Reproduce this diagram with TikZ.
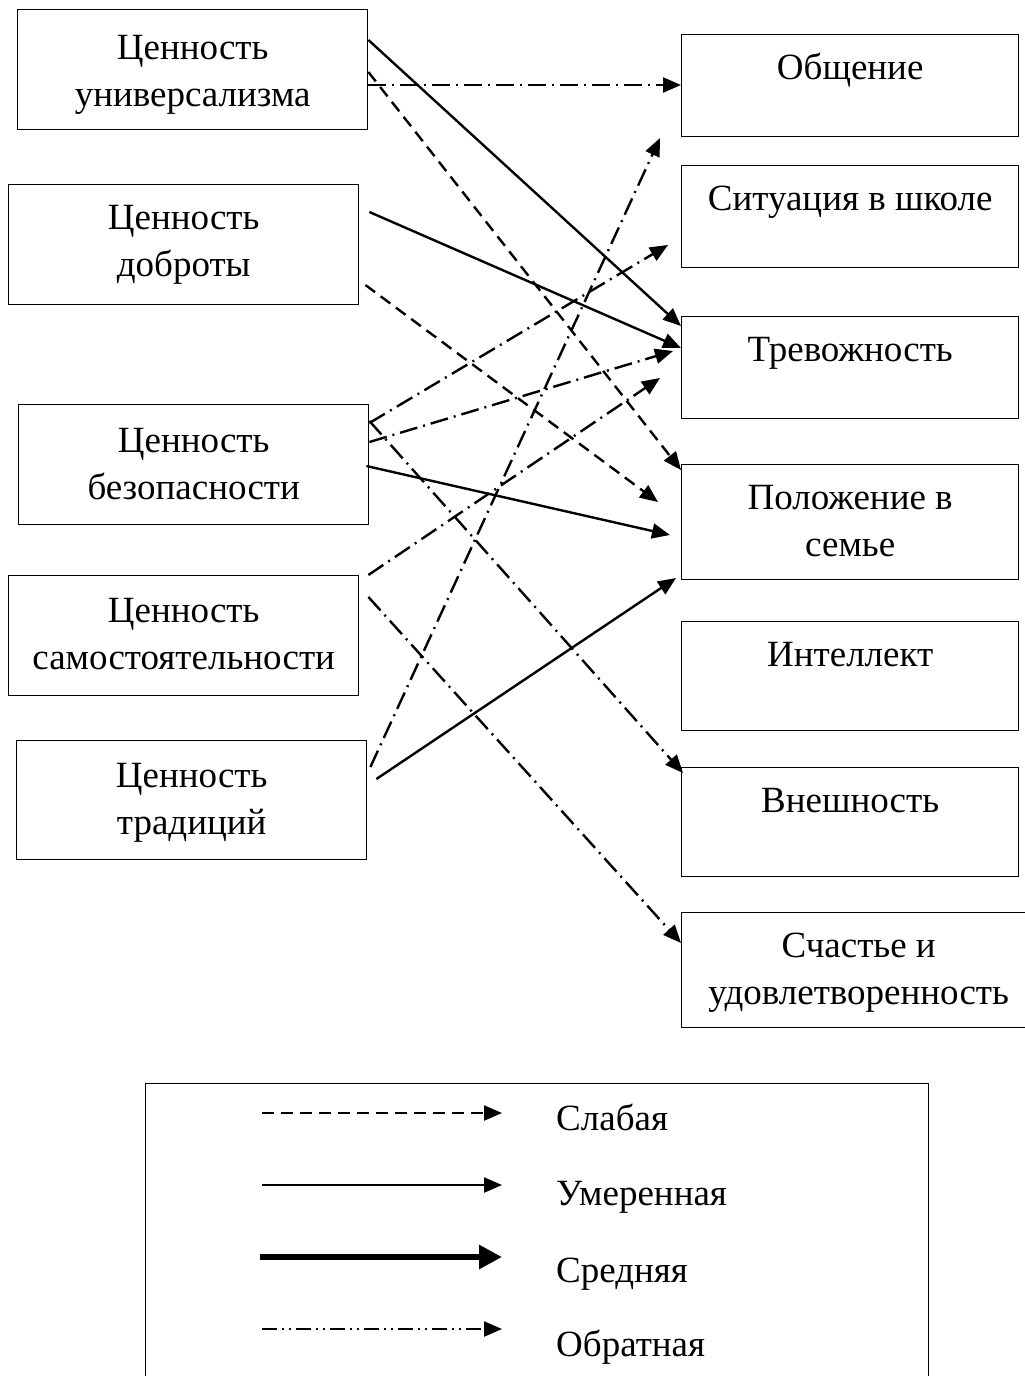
\documentclass[tikz,border=0pt]{standalone}
\usepackage{fontspec}
\setmainfont{Liberation Serif}
\usetikzlibrary{arrows.meta}

\begin{document}
\begin{tikzpicture}  % ------ Ценности и самооценка ---------------
      [x=1pt,y=-1pt,
       box/.style={draw,line width=1.4pt,inner sep=0pt,anchor=north west,align=center,
                   font=\fontsize{37pt}{47pt}\selectfont},
       lbox/.style={box,minimum width=350pt,text height=95pt,text depth=25pt},
       rbox/.style={box,minimum width=337pt,text height=45pt},
       link/.style={line width=2.4pt,-{Triangle[length=18pt,width=15pt]}},
       weak/.style={link,dash pattern=on 12pt off 7pt},
       moderate/.style={link},
       strong/.style={line width=6pt,-{Triangle[length=23pt,width=23pt]}},
       inverse/.style={link,dash pattern=on 18pt off 6pt on 2pt off 6pt},
       inverseleg/.style={link,dash pattern=on 15pt off 5pt on 2pt off 5pt on 2pt off 5pt},
       leg/.style={anchor=base west,inner sep=0pt,font=\fontsize{37pt}{47pt}\selectfont}]
    \useasboundingbox (0,0) rectangle (1025,1376);
    \clip (0,0) rectangle (1025,1376);

    % ценности
    \node[lbox,text height=97pt,text depth=23pt] (uni) at (17,9) {Ценность\\универсализма};
    \node[lbox,text height=92pt,text depth=28pt] (dob) at (8,184) {Ценность\\доброты};
    \node[lbox] (bez)  at (18,404) {Ценность\\безопасности};
    \node[lbox,text height=94pt,text depth=26pt] (sam) at (8,575) {Ценность\\самостоятельности};
    \node[lbox,text height=94pt,text depth=25pt] (trad) at (16,740) {Ценность\\традиций};

    % сферы
    \node[rbox,text depth=57pt] (obsh) at (681,34)  {Общение};
    \node[rbox,text depth=57pt] (sit)  at (681,165) {Ситуация в школе};
    \node[rbox,text depth=57pt] (trev) at (681,316) {Тревожность};
    \node[rbox,text height=92pt,text depth=23pt] (pol) at (681,464) {Положение в\\семье};
    \node[rbox,text depth=64pt] (int)  at (681,621) {Интеллект};
    \node[rbox,text depth=64pt] (vn)   at (681,767) {Внешность};
    \node[rbox,minimum width=354pt,text height=92pt,text depth=23pt] (sch) at (681,912) {Счастье и\\удовлетворенность};

    % связи
    \draw[moderate] ([yshift=-31pt]uni.north east) -- ([yshift=-10pt]trev.north west);
    \draw[inverse]  ([yshift=-76pt]uni.north east) -- ([yshift=-51pt]obsh.north west);
    \draw[weak]     ([yshift=-63pt]uni.north east) -- ([yshift=-6pt]pol.north west);
    \draw[moderate] ([xshift=10pt,yshift=-28pt]dob.north east) -- ([yshift=-32pt]trev.north west);
    \draw[weak]     ([xshift=6pt,yshift=-101pt]dob.north east) -- ([xshift=-23pt,yshift=-38pt]pol.north west);
    \draw[inverse]  ([yshift=-19pt]bez.north east) -- ([xshift=-13pt,yshift=-80pt]sit.north west);
    \draw[inverse]  ([yshift=-38pt]bez.north east) -- ([xshift=-8pt,yshift=-35pt]trev.north west);
    \draw[inverse]  ([yshift=-17pt]bez.north east) -- ([xshift=2pt,yshift=-6pt]vn.north west);
    \draw[moderate] ([xshift=-3pt,yshift=-62pt]bez.north east) -- ([xshift=-11pt,yshift=-71pt]pol.north west);
    \draw[inverse]  ([xshift=9pt]sam.north east) -- ([xshift=-21pt,yshift=-62pt]trev.north west);
    \draw[inverse]  ([xshift=9pt,yshift=-22pt]sam.north east) -- ([yshift=-31pt]sch.north west);
    \draw[inverse]  ([xshift=3pt,yshift=-27pt]trad.north east) -- ([xshift=-21pt,yshift=-104pt]obsh.north west);
    \draw[moderate] ([xshift=9pt,yshift=-39pt]trad.north east) -- ([xshift=-5pt,yshift=-114pt]pol.north west);

    % легенда
    \node[draw,line width=1.4pt,anchor=north west,minimum width=783pt,minimum height=320pt,
          inner sep=0pt] (legend) at (145,1083) {};
    \coordinate (e1) at (502,1113);
    \coordinate (e2) at (502,1185);
    \coordinate (e3) at (502,1257);
    \coordinate (e4) at (502,1329);
    \draw[weak]       ([xshift=-240pt]e1) -- (e1);
    \draw[moderate]   ([xshift=-240pt]e2) -- (e2);
    \draw[strong]     ([xshift=-242pt]e3) -- (e3);
    \draw[inverseleg] ([xshift=-240pt]e4) -- (e4);
    \node[leg] (t1) at (556,1130) {Слабая};
    \node[leg] (t2) at (556,1205) {Умеренная};
    \node[leg] (t3) at (556,1282) {Средняя};
    \node[leg] (t4) at (556,1356) {Обратная};
\end{tikzpicture}
\end{document}
